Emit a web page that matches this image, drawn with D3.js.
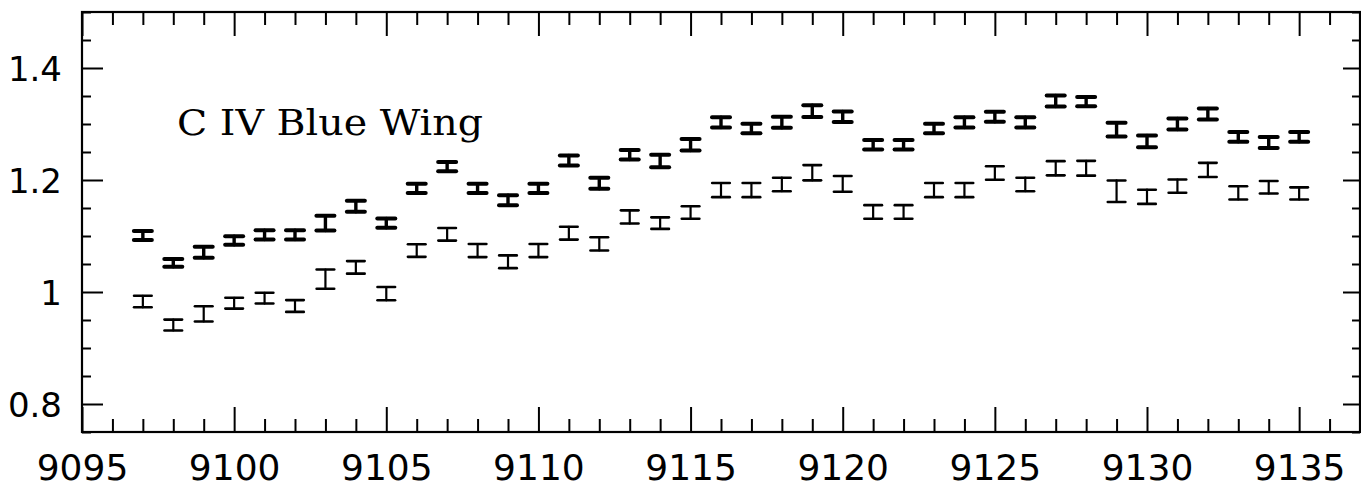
<!DOCTYPE html>
<html>
<head>
<meta charset="utf-8">
<script src="https://cdn.jsdelivr.net/npm/d3@7"></script>
<style>
  html, body { margin: 0; padding: 0; background: #fff; }
  svg { display: block; }
</style>
</head>
<body>
<svg id="chart" width="1361" height="497"></svg>
<script>
// ---- data ----
const wavelengths = [9097, 9098, 9099, 9100, 9101, 9102, 9103, 9104, 9105, 9106,
                     9107, 9108, 9109, 9110, 9111, 9112, 9113, 9114, 9115, 9116,
                     9117, 9118, 9119, 9120, 9121, 9122, 9123, 9124, 9125, 9126,
                     9127, 9128, 9129, 9130, 9131, 9132, 9133, 9134, 9135];

const upperValues = [1.101, 1.052, 1.071, 1.092, 1.102, 1.102, 1.123, 1.153, 1.123, 1.185,
                     1.224, 1.185, 1.164, 1.185, 1.235, 1.194, 1.245, 1.234, 1.263, 1.303,
                     1.292, 1.303, 1.323, 1.313, 1.263, 1.263, 1.292, 1.303, 1.313, 1.303,
                     1.341, 1.340, 1.290, 1.269, 1.300, 1.318, 1.277, 1.267, 1.277];
const upperErrors = [0.0080, 0.0071, 0.0098, 0.0075, 0.0084, 0.0084, 0.0131, 0.0098, 0.0083, 0.0083,
                     0.0083, 0.0083, 0.0089, 0.0083, 0.0089, 0.0098, 0.0084, 0.0113, 0.0102, 0.0092,
                     0.0083, 0.0098, 0.0107, 0.0095, 0.0084, 0.0084, 0.0083, 0.0092, 0.0089, 0.0092,
                     0.0098, 0.0083, 0.0121, 0.0104, 0.0098, 0.0098, 0.0089, 0.0098, 0.0089];

const lowerValues = [0.983, 0.941, 0.961, 0.980, 0.989, 0.975, 1.023, 1.044, 0.997, 1.074,
                     1.103, 1.074, 1.054, 1.074, 1.105, 1.086, 1.134, 1.123, 1.142, 1.182,
                     1.182, 1.192, 1.213, 1.193, 1.143, 1.143, 1.182, 1.182, 1.2125, 1.192,
                     1.221, 1.221, 1.180, 1.170, 1.189, 1.218, 1.177, 1.187, 1.176];
const lowerErrors = [0.0103, 0.0097, 0.0136, 0.0096, 0.0096, 0.0105, 0.0171, 0.0112, 0.0118, 0.0112,
                     0.0112, 0.0117, 0.0114, 0.0117, 0.0114, 0.0118, 0.0118, 0.0103, 0.0112, 0.0126,
                     0.0126, 0.0121, 0.0136, 0.0141, 0.0121, 0.0121, 0.0126, 0.0126, 0.0121, 0.0121,
                     0.0127, 0.0132, 0.0192, 0.0127, 0.0118, 0.0126, 0.0118, 0.0112, 0.0109];

const xTickLabels = [9095, 9100, 9105, 9110, 9115, 9120, 9125, 9130, 9135];
const yTickLabels = [0.8, 1.0, 1.2, 1.4];
const xDomain = [9095, 9137];
const yDomain = [0.75, 1.5];
const annotation = "C IV Blue Wing";

// ---- layout ----
const svg = d3.select("#chart");
const mLeft = 82, mRight = 1360, mTop = 12, mBottom = 432;

const x = d3.scaleLinear().domain(xDomain).range([mLeft, mRight]);
const y = d3.scaleLinear().domain(yDomain).range([mBottom, mTop]);

const xMinor = d3.range(9096, 9137, 1).filter(v => v % 5 !== 0);
const yMinor = d3.range(0.75, 1.5001, 0.05).map(v => +v.toFixed(2))
                 .filter(v => Math.abs(v * 5 - Math.round(v * 5)) > 1e-6);

const fontTicks = "'DejaVu Sans', sans-serif";

function styleAxis(g) {
  g.select(".domain").remove();
  g.selectAll(".tick line").attr("stroke", "#000").attr("stroke-width", 2);
  g.selectAll(".tick text").attr("fill", "#000");
}

// bottom axis: major
svg.append("g").attr("transform", `translate(0,${mBottom})`)
  .call(d3.axisBottom(x).tickValues(xTickLabels).tickSizeInner(-25).tickSizeOuter(0)
        .tickPadding(22).tickFormat(d3.format("d")))
  .call(styleAxis)
  .call(g => g.selectAll(".tick text").attr("font-family", fontTicks).attr("font-size", 36));
// bottom axis: minor
svg.append("g").attr("transform", `translate(0,${mBottom})`)
  .call(d3.axisBottom(x).tickValues(xMinor).tickSizeInner(-13).tickSizeOuter(0).tickFormat(""))
  .call(styleAxis);
// top axis
svg.append("g").attr("transform", `translate(0,${mTop})`)
  .call(d3.axisTop(x).tickValues(xTickLabels).tickSizeInner(-24).tickSizeOuter(0).tickFormat(""))
  .call(styleAxis);
svg.append("g").attr("transform", `translate(0,${mTop})`)
  .call(d3.axisTop(x).tickValues(xMinor).tickSizeInner(-13).tickSizeOuter(0).tickFormat(""))
  .call(styleAxis);

// left axis
svg.append("g").attr("transform", `translate(${mLeft},0)`)
  .call(d3.axisLeft(y).tickValues(yTickLabels).tickSizeInner(-21).tickSizeOuter(0)
        .tickPadding(20).tickFormat(d => String(+d.toFixed(1))))
  .call(styleAxis)
  .call(g => g.selectAll(".tick text").attr("font-family", fontTicks).attr("font-size", 34)
                .attr("dy", "0.38em"));
svg.append("g").attr("transform", `translate(${mLeft},0)`)
  .call(d3.axisLeft(y).tickValues(yMinor).tickSizeInner(-9).tickSizeOuter(0).tickFormat(""))
  .call(styleAxis);
// right axis
svg.append("g").attr("transform", `translate(${mRight},0)`)
  .call(d3.axisRight(y).tickValues(yTickLabels).tickSizeInner(-17).tickSizeOuter(0).tickFormat(""))
  .call(styleAxis);
svg.append("g").attr("transform", `translate(${mRight},0)`)
  .call(d3.axisRight(y).tickValues(yMinor).tickSizeInner(-8).tickSizeOuter(0).tickFormat(""))
  .call(styleAxis);

// frame
svg.append("rect")
  .attr("x", mLeft).attr("y", mTop)
  .attr("width", mRight - mLeft).attr("height", mBottom - mTop)
  .attr("fill", "none").attr("stroke", "#000").attr("stroke-width", 2.2);

// error bars
function drawSeries(vals, errs, cls, capHalf, capW, stemW) {
  const data = wavelengths.map((w, i) => ({ w, v: vals[i], e: errs[i] }));
  const g = svg.append("g").attr("class", cls)
    .attr("stroke", "#000").attr("stroke-linecap", "round").attr("fill", "none");
  const bars = g.selectAll("g").data(data).join("g");
  bars.append("line")
    .attr("x1", d => x(d.w)).attr("x2", d => x(d.w))
    .attr("y1", d => y(d.v - d.e)).attr("y2", d => y(d.v + d.e))
    .attr("stroke-width", stemW);
  bars.append("line")
    .attr("x1", d => x(d.w) - capHalf).attr("x2", d => x(d.w) + capHalf)
    .attr("y1", d => y(d.v + d.e)).attr("y2", d => y(d.v + d.e))
    .attr("stroke-width", capW);
  bars.append("line")
    .attr("x1", d => x(d.w) - capHalf).attr("x2", d => x(d.w) + capHalf)
    .attr("y1", d => y(d.v - d.e)).attr("y2", d => y(d.v - d.e))
    .attr("stroke-width", capW);
}
drawSeries(upperValues, upperErrors, "upper", 9, 4, 3.4);
drawSeries(lowerValues, lowerErrors, "lower", 8.8, 2.6, 2.2);

// annotation
svg.append("text")
  .attr("x", 177).attr("y", 135)
  .attr("font-family", "'DejaVu Serif', serif")
  .attr("font-size", 35)
  .attr("textLength", 306).attr("lengthAdjust", "spacingAndGlyphs")
  .attr("fill", "#000")
  .text(annotation);
</script>
</body>
</html>
